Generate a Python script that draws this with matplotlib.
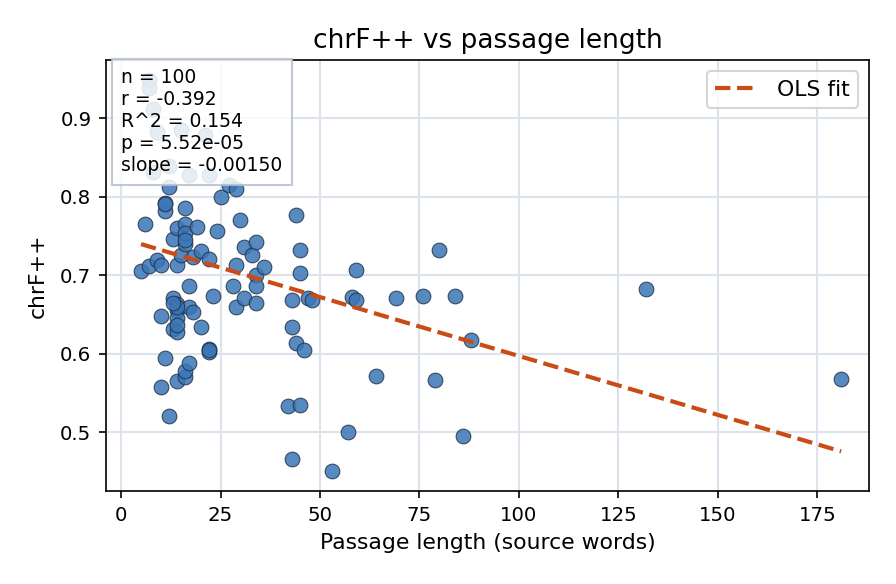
import numpy as np
import matplotlib
matplotlib.use("Agg")
import matplotlib.pyplot as plt

# passage length (source words) and chrF++ per passage
length = [5, 6, 7, 9, 10, 10, 10, 11, 11, 11, 12, 12, 13, 13, 13, 14, 14, 14, 14, 14,
          14, 14, 15, 16, 16, 16, 16, 16, 16, 17, 17, 17, 18, 18, 19, 20, 20, 22, 22, 22,
          23, 24, 25, 27, 28, 29, 29, 29, 30, 31, 31, 33, 34, 34, 34, 34, 36, 42, 43, 43,
          43, 44, 44, 45, 45, 45, 46, 47, 48, 53, 57, 58, 59, 59, 64, 69, 76, 79, 80, 84,
          86, 88, 132, 181, 7, 7, 8, 9, 15, 21, 12, 8, 17, 22, 11, 14, 14, 22, 16, 13]
chrf = [0.705, 0.765, 0.711, 0.719, 0.713, 0.648, 0.557, 0.594, 0.782, 0.792, 0.812, 0.520,
        0.671, 0.632, 0.746, 0.713, 0.760, 0.663, 0.655, 0.645, 0.627, 0.565, 0.725, 0.785,
        0.765, 0.740, 0.754, 0.570, 0.578, 0.660, 0.686, 0.588, 0.723, 0.653, 0.761, 0.731,
        0.634, 0.720, 0.606, 0.602, 0.673, 0.756, 0.800, 0.815, 0.686, 0.810, 0.713, 0.660,
        0.770, 0.671, 0.736, 0.726, 0.742, 0.700, 0.686, 0.665, 0.710, 0.533, 0.466, 0.668,
        0.634, 0.776, 0.613, 0.535, 0.732, 0.703, 0.605, 0.671, 0.668, 0.450, 0.500, 0.672,
        0.668, 0.706, 0.571, 0.671, 0.673, 0.566, 0.732, 0.674, 0.495, 0.617, 0.682, 0.568,
        0.949, 0.938, 0.911, 0.882, 0.885, 0.878, 0.839, 0.831, 0.827, 0.827, 0.790, 0.660,
        0.637, 0.604, 0.745, 0.665]

# OLS fit as reported / drawn in the reference
fit_slope = -0.00150
fit_intercept = 0.747

stats_lines = ["n = 100", "r = -0.392", "R^2 = 0.154", "p = 5.52e-05", "slope = -0.00150"]

x = np.array(length, dtype=float)
y = np.array(chrf)
xs = np.linspace(x.min(), x.max(), 100)

fig = plt.figure(figsize=(896 / 150, 584 / 150), dpi=150)
ax = fig.add_axes([106 / 896, 1 - 491 / 584, 763 / 896, 431 / 584])
ax.grid(True, color="#dde3ec", linewidth=1.0, zorder=0)
ax.set_axisbelow(True)
ax.scatter(x, y, s=50, color="#3a76b6", alpha=0.85, edgecolor="#1f2f45",
           linewidth=0.5, zorder=3)
ax.plot(xs, fit_intercept + fit_slope * xs, "--", color="#c94c16", linewidth=2,
        label="OLS fit", zorder=4)

ax.text(0.02, 0.981, "\n".join(stats_lines), transform=ax.transAxes, va="top",
        ha="left", fontsize=9, zorder=5,
        bbox=dict(boxstyle="square,pad=0.5", facecolor="white", alpha=0.85,
                  edgecolor="#b3bfcf"))

ax.set_xlim(-3.8, 188)
ax.tick_params(labelsize=9.5)
ax.set_title("chrF++ vs passage length", fontsize=12.7)
ax.set_xlabel("Passage length (source words)", fontsize=10.5)
ax.set_ylabel("chrF++", fontsize=10.5, labelpad=6)
ax.legend(loc="upper right", fontsize=10.5)
fig.savefig("out.png", dpi=150)
